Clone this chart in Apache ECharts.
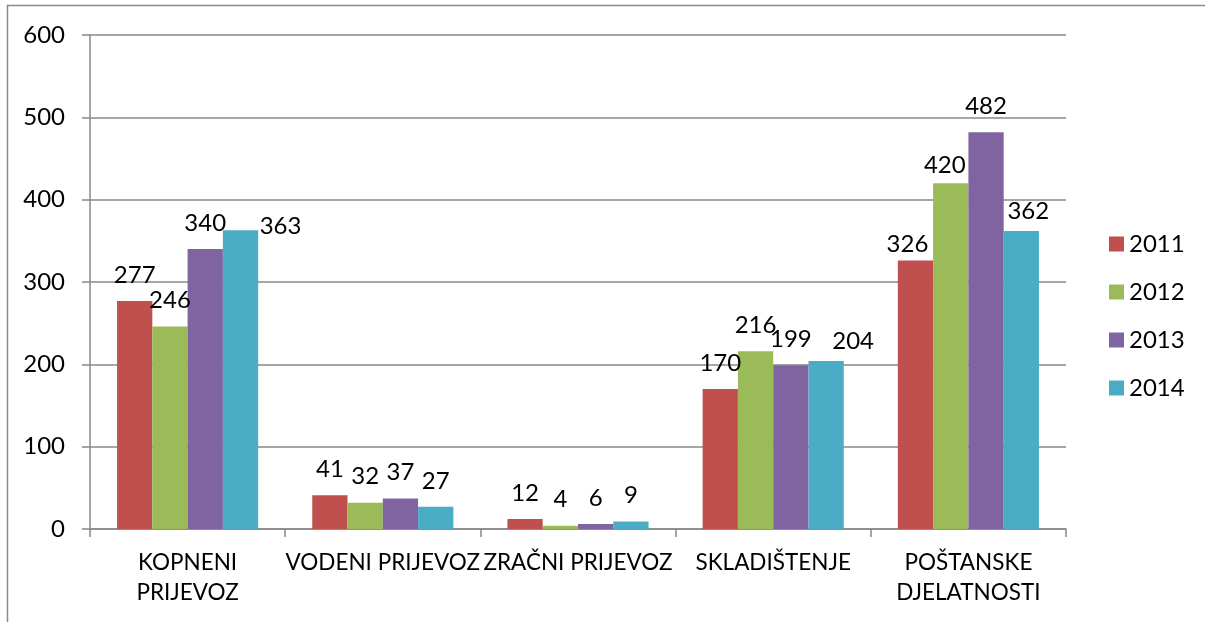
<!DOCTYPE html>
<html>
<head>
<meta charset="utf-8">
<script src="https://cdn.jsdelivr.net/npm/echarts@6/dist/echarts.min.js"></script>
<style>
html,body{margin:0;padding:0;background:#fff;}
#chart{width:1205px;height:622px;}
</style>
</head>
<body>
<div id="chart"></div>
<script>
const categories = ["KOPNENI\nPRIJEVOZ", "VODENI PRIJEVOZ", "ZRAČNI PRIJEVOZ", "SKLADIŠTENJE", "POŠTANSKE\nDJELATNOSTI"];
const seriesNames = ["2011", "2012", "2013", "2014"];
const v2011 = [277, 41, 12, 170, 326];
const v2012 = [246, 32, 4, 216, 420];
const v2013 = [340, 37, 6, 199, 482];
const v2014 = [363, 27, 9, 204, 362];
const yTicks = [0, 100, 200, 300, 400, 500, 600];

const colors = ["#C0504D", "#9BBB59", "#8064A2", "#4BACC6"];
// label nudges (style only): [seriesIndex, categoryIndex, dx, dy]
const labelNudges = [[3,0,40,22],[3,3,27,6],[0,4,-8,10],[1,4,-6,8],[3,4,7,6]];

const FONT = "Lato";
const allValues = [v2011, v2012, v2013, v2014];

const series = allValues.map((vals, si) => ({
  name: seriesNames[si],
  type: 'bar',
  barGap: '0%',
  barCategoryGap: '27.7%',
  itemStyle: { color: colors[si] },
  label: { show: true, position: 'top', distance: 14, color: '#000', fontFamily: FONT, fontSize: 24 },
  data: vals.map((v, ci) => {
    const n = labelNudges.find(x => x[0] === si && x[1] === ci);
    return n ? { value: v, label: { offset: [n[2], n[3]] } } : v;
  })
}));

const chart = echarts.init(document.getElementById('chart'), null, { renderer: 'canvas' });
chart.setOption({
  animation: false,
  backgroundColor: '#fff',
  color: colors,
  graphic: [{
    type: 'rect',
    shape: { x: 7.5, y: 5.5, width: 1400, height: 1000 },
    style: { fill: 'none', stroke: '#8a8a8a', lineWidth: 1.5 },
    silent: true
  }],
  grid: { left: 90, right: 139, top: 35, bottom: 93, containLabel: false },
  legend: {
    orient: 'vertical',
    left: 1109,
    top: 232,
    padding: 0,
    icon: 'rect',
    itemWidth: 15,
    itemHeight: 15,
    itemGap: 24,
    textStyle: { fontFamily: FONT, fontSize: 24, color: '#000', lineHeight: 23.5 },
    data: seriesNames
  },
  xAxis: {
    type: 'category',
    data: categories,
    axisLine: { lineStyle: { color: '#888', width: 1.5 } },
    axisTick: { show: true, length: 8, lineStyle: { color: '#888', width: 1.5 } },
    axisLabel: { interval: 0, margin: 19, color: '#000', fontFamily: FONT, fontSize: 22.5, lineHeight: 30 }
  },
  yAxis: {
    type: 'value',
    min: yTicks[0],
    max: yTicks[yTicks.length - 1],
    interval: yTicks[1] - yTicks[0],
    axisLine: { show: true, lineStyle: { color: '#888', width: 1.5 } },
    axisTick: { show: true, length: 8, lineStyle: { color: '#888', width: 1.5 } },
    splitLine: { show: true, lineStyle: { color: '#888', width: 1.5 } },
    axisLabel: { margin: 25, color: '#000', fontFamily: FONT, fontSize: 24 }
  },
  series: series
});
</script>
</body>
</html>
